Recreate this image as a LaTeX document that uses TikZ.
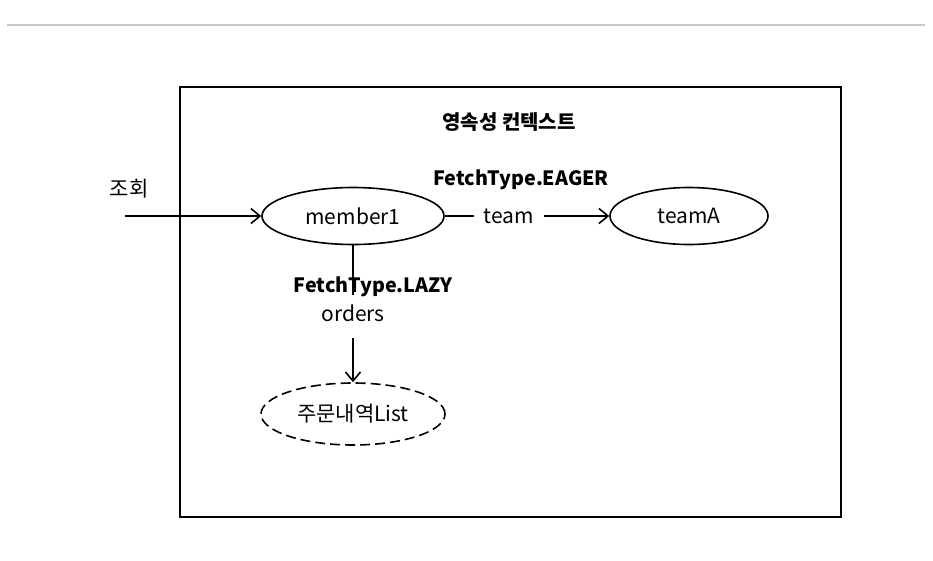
\documentclass[tikz,border=0pt]{standalone}
\usepackage{fontspec}
\setmainfont{Noto Sans CJK KR}
\usetikzlibrary{shapes.geometric,arrows.meta}
\begin{document}
\begin{tikzpicture}[x=1pt,y=-1pt,
  every node/.style={font=\fontsize{21}{24}\selectfont, inner sep=0pt},
  ent/.style={ellipse, draw, line width=1.6pt, minimum width=182pt, minimum height=57pt},
  lbl/.style={font=\fontsize{19.7}{24}\selectfont\bfseries},
  conn/.style={line width=1.6pt},
  arr/.style={line width=1.6pt, -{Straight Barb[length=9pt,width=15pt,line width=1.6pt]}}
]
\useasboundingbox (0,0) rectangle (933,560);
\draw[line width=2pt, black!22] (7,25) -- (925,25);
\draw[line width=1.8pt] (180,87) rectangle (841,517);
\node[lbl, font=\fontsize{20}{24}\selectfont\bfseries] (title) at (509,122) {영속성 컨텍스트};
\node (query) at (129,189) {조회};
\coordinate (qstart) at (125,216);
\node[ent] (member) at (353,216) {member1};
\node[ent, minimum width=158pt] (teamA) at (689,216) {teamA};
\node[lbl] (eager) at (521,180) {FetchType.EAGER};
\node (team) at (509,216) {\vphantom{t}team};
\draw[arr] (qstart) -- (member.west);
\draw[conn] (member.east) -- ([xshift=-10pt]team.west);
\draw[arr] ([xshift=10pt]team.east) -- (teamA.west);
\node[lbl] (lazy) at (373,287) {FetchType.LAZY};
\node (orders) at (353,313) {orders};
\node[ent, dashed, dash pattern=on 10pt off 5pt, minimum width=184pt, minimum height=62pt] (list) at (353,414) {주문내역List};
\coordinate (lazyend) at (353,295);
\coordinate (arrstart) at (353,338);
\draw[conn] (member.south) -- (lazyend);
\draw[arr] (arrstart) -- (list.north);
\end{tikzpicture}
\end{document}
